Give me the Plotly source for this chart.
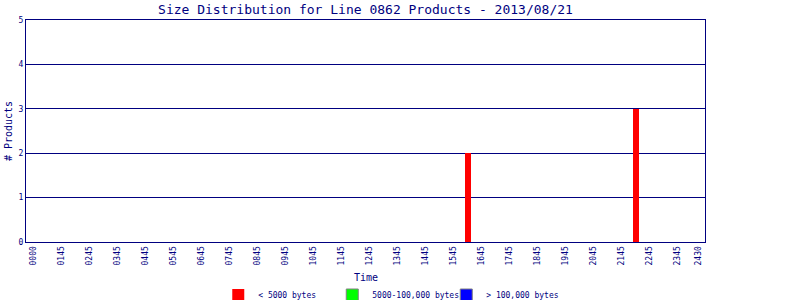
import plotly.graph_objects as go

NAVY = "#000080"
FONT = "DejaVu Sans Mono"

# Tick labels along the time axis and their positions (hours)
tick_labels = ["0000", "0145", "0245", "0345", "0445", "0545", "0645", "0745",
               "0845", "0945", "1045", "1145", "1245", "1345", "1445", "1545",
               "1645", "1745", "1845", "1945", "2045", "2145", "2245", "2345", "2430"]
tick_hours = [0.75, 1.75, 2.75, 3.75, 4.75, 5.75, 6.75, 7.75, 8.75, 9.75, 10.75,
              11.75, 12.75, 13.75, 14.75, 15.75, 16.75, 17.75, 18.75, 19.75,
              20.75, 21.75, 22.75, 23.75, 24.5]

# Product counts (hour of bin)
small_times = [16.27, 22.27]
small_counts = [2, 3]
medium_times = []
medium_counts = []
large_times = []
large_counts = []

fig = go.Figure()
series = [
    ("< 5000 bytes", small_times, small_counts, "#ff0000", 0),
    ("5000-100,000 bytes", medium_times, medium_counts, "#00ff00", 1),
    ("> 100,000 bytes", large_times, large_counts, "#0000ff", 1),
]
for name, xs, ys, col, lw in series:
    fig.add_trace(go.Bar(
        x=xs if xs else [None], y=ys if ys else [None], name=name,
        width=0.21, marker=dict(color=col, line=dict(width=lw, color="#808080")),
        showlegend=True,
    ))

fig.update_layout(
    width=800, height=300,
    margin=dict(l=26, r=95, t=20, b=58, autoexpand=False),
    paper_bgcolor="white", plot_bgcolor="white",
    font=dict(family=FONT, color=NAVY, size=8),
    title=dict(text="Size Distribution for Line 0862 Products - 2013/08/21",
               x=365.5 / 800, xanchor="center",
               y=1 - 14 / 300, yanchor="bottom",
               font=dict(family=FONT, size=13, color=NAVY)),
    bargap=0,
    legend=dict(orientation="h", x=0.535, xanchor="center",
                y=(242 - 295) / 222, yanchor="middle",
                entrywidth=69, entrywidthmode="pixels",
                font=dict(family=FONT, size=8, color=NAVY),
                itemclick=False),
    xaxis=dict(range=[0.5, 24.75], tickvals=tick_hours, ticktext=tick_labels,
               tickangle=-90, showgrid=False, zeroline=False, automargin=False,
               showline=True, linecolor=NAVY, linewidth=1, mirror=True,
               ticks="", ticklen=0,
               tickfont=dict(family=FONT, size=8, color=NAVY)),
    yaxis=dict(range=[0, 5], tickvals=[0, 1, 2, 3, 4, 5], automargin=False,
               showgrid=True, gridcolor=NAVY, gridwidth=1, zeroline=False,
               showline=True, linecolor=NAVY, linewidth=1, mirror=True,
               ticks="", tickfont=dict(family=FONT, size=8, color=NAVY),
               title=dict(text="# Products", font=dict(family=FONT, size=10, color=NAVY),
                          standoff=4)),
    annotations=[dict(text="Time", xref="paper", yref="paper", x=0.5, y=-0.162,
                      xanchor="center", yanchor="middle", showarrow=False,
                      font=dict(family=FONT, size=10, color=NAVY))],
)

fig.write_html("out.html")
